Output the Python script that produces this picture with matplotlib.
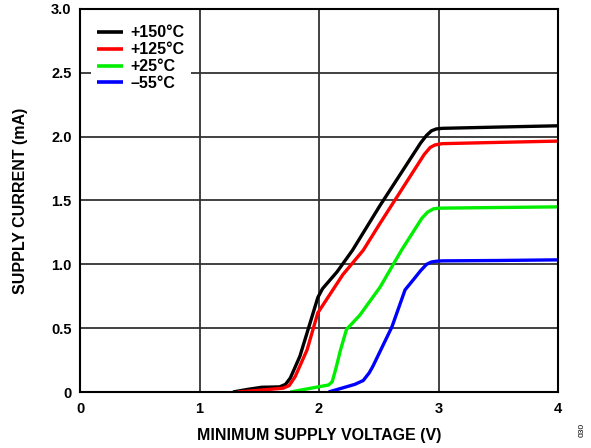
import matplotlib.pyplot as plt

plt.rcParams['font.family'] = ['Liberation Sans', 'DejaVu Sans']
plt.rcParams['font.weight'] = 'bold'

# supply voltage (V) vs supply current (mA) at each temperature
v_150 = [1.28, 1.40, 1.52, 1.67, 1.72, 1.76, 1.84, 1.925, 1.99, 2.03, 2.15, 2.28, 2.51, 2.85, 2.90, 2.94, 2.98, 3.03, 3.5, 4.0]
i_150 = [0.0, 0.02, 0.037, 0.04, 0.06, 0.11, 0.28, 0.54, 0.74, 0.81, 0.94, 1.11, 1.46, 1.95, 2.01, 2.045, 2.06, 2.065, 2.075, 2.085]

v_125 = [1.32, 1.52, 1.70, 1.75, 1.80, 1.90, 1.99, 2.06, 2.20, 2.37, 2.51, 2.88, 2.93, 2.97, 3.03, 3.5, 4.0]
i_125 = [0.0, 0.015, 0.03, 0.05, 0.12, 0.33, 0.62, 0.72, 0.92, 1.11, 1.32, 1.86, 1.915, 1.935, 1.945, 1.955, 1.965]

v_25 = [1.76, 2.08, 2.11, 2.14, 2.18, 2.23, 2.34, 2.51, 2.69, 2.86, 2.91, 2.96, 3.01, 3.5, 4.0]
i_25 = [0.0, 0.055, 0.08, 0.18, 0.33, 0.49, 0.60, 0.82, 1.11, 1.36, 1.41, 1.435, 1.44, 1.445, 1.45]

v_m55 = [2.08, 2.30, 2.37, 2.42, 2.45, 2.61, 2.72, 2.79, 2.85, 2.90, 2.94, 2.98, 3.03, 3.5, 4.0]
i_m55 = [0.0, 0.06, 0.09, 0.15, 0.2, 0.51, 0.80, 0.88, 0.95, 1.00, 1.018, 1.024, 1.027, 1.03, 1.035]

series = [
    (v_150, i_150, '#000000', '+150°C'),
    (v_125, i_125, '#ff0000', '+125°C'),
    (v_25, i_25, '#00ee00', '+25°C'),
    (v_m55, i_m55, '#0000ff', '–55°C'),
]

fig = plt.figure(figsize=(5.91, 4.48), dpi=100)
ax = fig.add_axes([0.1354, 0.125, 0.8088, 0.855])

for v, i, color, label in series:
    ax.plot(v, i, color=color, linewidth=2.4, label=label,
            solid_joinstyle='round', solid_capstyle='butt')

ax.set_xlim(0, 4)
ax.set_ylim(0, 3.0)
ax.set_xticks([0, 1, 2, 3, 4])
ax.set_xticklabels(['0', '1', '2', '3', '4'])
ax.set_yticks([0, 0.5, 1.0, 1.5, 2.0, 2.5, 3.0])
ax.set_yticklabels(['0', '0.5', '1.0', '1.5', '2.0', '2.5', '3.0'])
ax.tick_params(length=0, labelsize=10.5, pad=6)
ax.tick_params(axis='x', pad=7.5)
ax.grid(True, color='#333333', linewidth=1.3)
ax.set_axisbelow(True)
for s in ax.spines.values():
    s.set_linewidth(1.5)
    s.set_color('black')

ax.set_xlabel('MINIMUM SUPPLY VOLTAGE (V)', fontsize=11.5, fontweight='bold', labelpad=8)
ax.set_ylabel('SUPPLY CURRENT (mA)', fontsize=11.5, fontweight='bold', labelpad=17)

leg = ax.legend(loc='upper left', bbox_to_anchor=(0.023, 0.974), frameon=True,
                fontsize=11.5, handlelength=1.6, handletextpad=0.45,
                labelspacing=0.12, borderaxespad=0.0, borderpad=0.4,
                fancybox=False)
leg.get_frame().set_edgecolor('none')
leg.get_frame().set_facecolor('white')
leg.get_frame().set_alpha(1.0)
for line, (_, _, color, _) in zip(leg.get_lines(), series):
    line.set_color(color)
    line.set_linewidth(2.6)

fig.text(0.985, 0.04, '030', rotation=90, fontsize=6, fontweight='normal',
         ha='center', va='center')

fig.savefig('out.png', dpi=100)
